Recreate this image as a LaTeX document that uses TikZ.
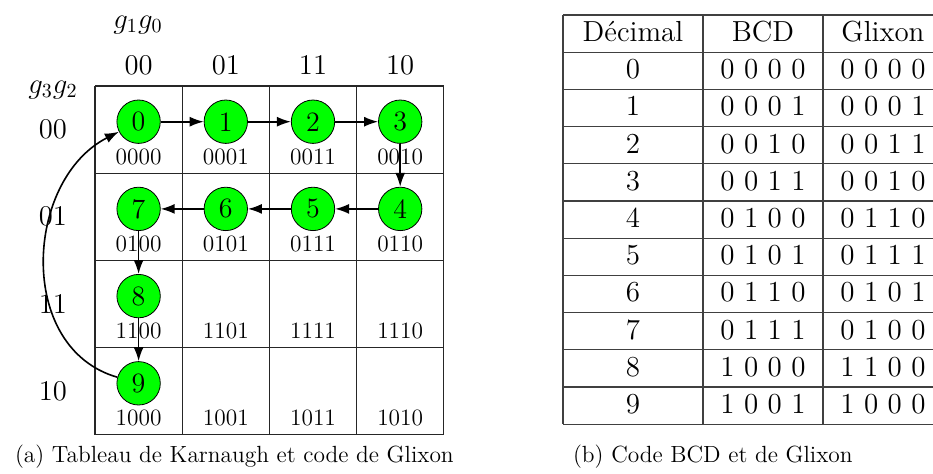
\documentclass[tikz,border=0pt]{standalone}
\usepackage{xcolor}
\usepackage{tikz}
\usetikzlibrary{arrows.meta,positioning,calc}

\begin{document}
\begin{tikzpicture}[
    x=0.5pt, y=-0.5pt,
    kgrid/.style={draw=black!85, line width=0.55pt},
    tline/.style={draw=black!75, line width=0.6pt},
    dot/.style={circle, draw, fill=green, minimum size=21.7pt, inner sep=0pt, font=\fontsize{14}{16}\selectfont},
    code/.style={font=\fontsize{11.7}{14}\selectfont},
    lbl/.style={font=\fontsize{14.3}{17}\selectfont},
    tab/.style={anchor=base, font=\fontsize{14.5}{17}\selectfont},
    captxt/.style={anchor=base west, font=\fontsize{11.7}{14}\selectfont},
    arr/.style={-{Latex[length=7pt,width=5pt]}, line width=0.8pt}
]
    \useasboundingbox (0,0) rectangle (933,473);

    % Karnaugh map
    \foreach \k in {0,...,4} {
        \draw[kgrid] (95,{86+87.2*\k}) -- (444,{86+87.2*\k});
        \draw[kgrid] ({95+87.2*\k},86) -- ({95+87.2*\k},434.8);
    }

    \node[lbl] (g10) at (138,25) {$g_1g_0$};
    \node[lbl] (g32) at (53,90) {$g_3g_2$};
    \node[lbl] (h0) at (138.6,65) {00};
    \node[lbl] (h1) at (225.8,65) {01};
    \node[lbl] (h2) at (313,65) {11};
    \node[lbl] (h3) at (400.2,65) {10};
    \node[lbl] (v0) at (53,129.5) {00};
    \node[lbl] (v1) at (53,216.7) {01};
    \node[lbl] (v2) at (53,303.9) {11};
    \node[lbl] (v3) at (53,391.1) {10};

    \foreach \r/\rc in {0/00,1/01,2/11,3/10}
        \foreach \c/\cc in {0/00,1/01,2/11,3/10}
            \node[code] (k\r\c) at ({138.6+87.2*\c},{156.7+87.2*\r}) {\rc\cc};

    \node[dot] (c0) at (138.6,121.7) {0};
    \node[dot] (c1) at (225.8,121.7) {1};
    \node[dot] (c2) at (313,121.7) {2};
    \node[dot] (c3) at (400.2,121.7) {3};
    \node[dot] (c4) at (400.2,208.9) {4};
    \node[dot] (c5) at (313,208.9) {5};
    \node[dot] (c6) at (225.8,208.9) {6};
    \node[dot] (c7) at (138.6,208.9) {7};
    \node[dot] (c8) at (138.6,296.1) {8};
    \node[dot] (c9) at (138.6,383.3) {9};

    \draw[arr] (c0) -- (c1);
    \draw[arr] (c1) -- (c2);
    \draw[arr] (c2) -- (c3);
    \draw[arr] (c3) -- (c4);
    \draw[arr] (c4) -- (c5);
    \draw[arr] (c5) -- (c6);
    \draw[arr] (c6) -- (c7);
    \draw[arr] (c7) -- (c8);
    \draw[arr] (c8) -- (c9);
    \draw[arr] (c9) to[out=164, in=207, looseness=1.1] (c0);

    % BCD / Glixon table
    \foreach \k in {0,...,11}
        \draw[tline] (563,{15+37.2*\k}) -- (945,{15+37.2*\k});
    \foreach \x in {563,703,823,943}
        \draw[tline] (\x,15) -- (\x,424.2);

    \node[tab] (tdec) at (633,41.5) {Décimal};
    \node[tab] (tbcd) at (763,41.5) {BCD};
    \node[tab] (tgli) at (883,41.5) {Glixon};
    \foreach \d/\b/\g in {0/0 0 0 0/0 0 0 0, 1/0 0 0 1/0 0 0 1, 2/0 0 1 0/0 0 1 1,
        3/0 0 1 1/0 0 1 0, 4/0 1 0 0/0 1 1 0, 5/0 1 0 1/0 1 1 1, 6/0 1 1 0/0 1 0 1,
        7/0 1 1 1/0 1 0 0, 8/1 0 0 0/1 1 0 0, 9/1 0 0 1/1 0 0 0} {
        \node[tab] (d\d) at (633,{78.7+37.2*\d}) {\d};
        \node[tab] (b\d) at (763,{78.7+37.2*\d}) {\b};
        \node[tab] (x\d) at (883,{78.7+37.2*\d}) {\g};
    }

    \node[captxt] (capa) at (8,462) {(a) Tableau de Karnaugh et code de Glixon};
    \node[captxt] (capb) at (566,462) {(b) Code BCD et de Glixon};
\end{tikzpicture}
\end{document}
